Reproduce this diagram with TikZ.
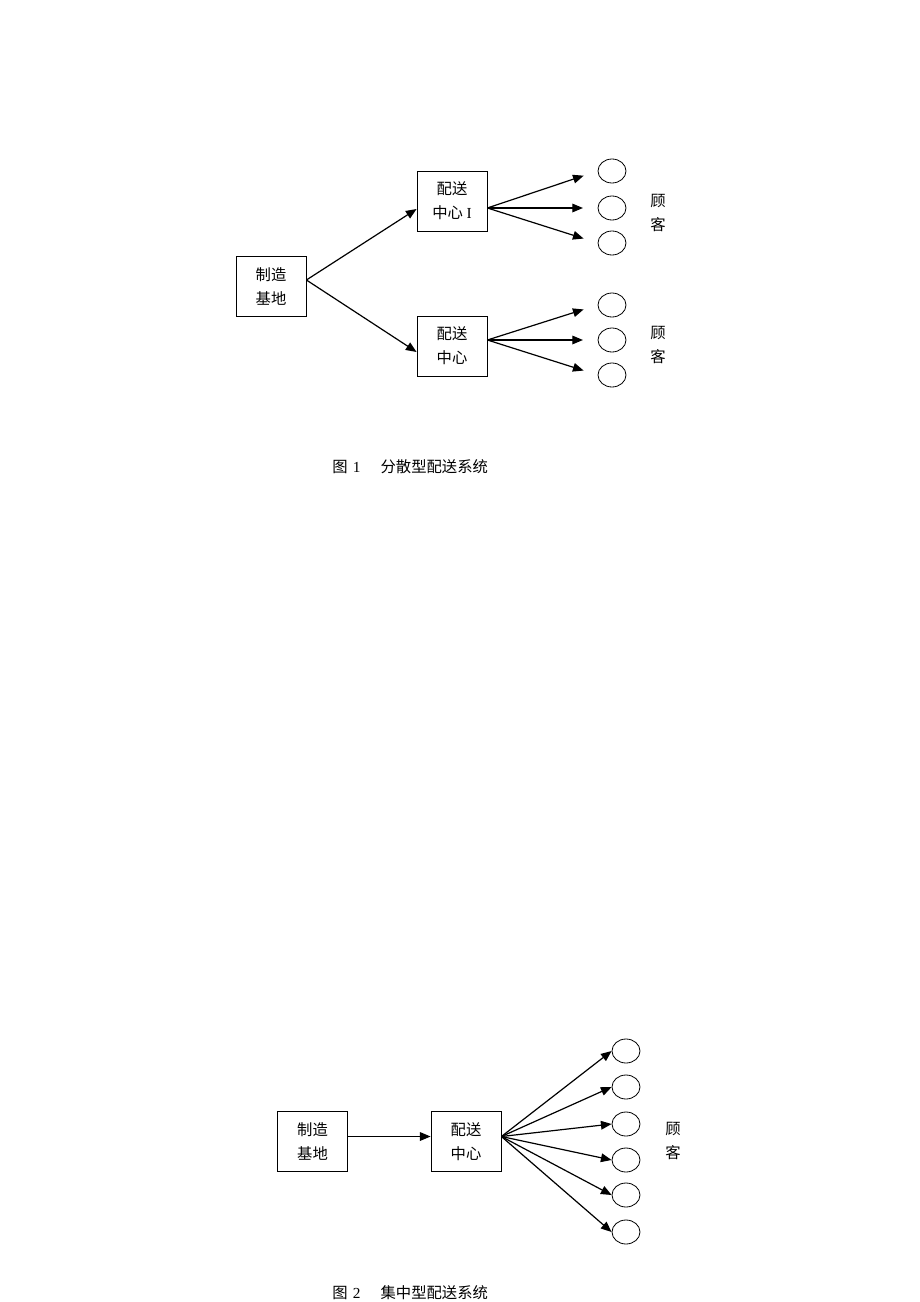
\documentclass[tikz,border=0pt]{standalone}
\usepackage{fontspec}
\setmainfont{Liberation Serif}
\newfontfamily\cjk{Noto Sans CJK SC}
\usetikzlibrary{
    arrows.meta,
    shapes.geometric
}
\tikzset{
    box/.style={draw, line width=0.6pt, minimum width=52.5pt, minimum height=45pt,
        inner sep=0pt, align=center, font=\cjk\fontsize{11.5}{18}\selectfont},
    cust/.style={draw, ellipse, line width=0.6pt, minimum width=21pt, minimum height=18pt, inner sep=0pt},
    arr/.style={-{Triangle[length=8pt, width=6.5pt]}, line width=0.9pt},
    lbl/.style={align=center, font=\cjk\fontsize{11.5}{18}\selectfont},
    figcap/.style={anchor=west, inner sep=0pt, font=\fontsize{11.5}{14}\selectfont}
}

\begin{document}
\begin{tikzpicture}[x=0.75pt, y=-0.75pt]
    \useasboundingbox (0, 0) rectangle (920, 1302);
    % figure 1
    \node[box] (m1) at (271, 286) {制造\\基地};
    \node[box] (d1) at (452, 201) {配送\\中心 {\rmfamily I}};
    \node[box] (d2) at (452, 346) {配送\\中心};
    \foreach \i/\y in {1/171, 2/208, 3/243} {
        \node[cust] (a\i) at (612, \y) {};
    }
    \foreach \i/\y in {1/305, 2/340, 3/375} {
        \node[cust] (b\i) at (612, \y) {};
    }
    \node[lbl] (ka) at (658, 213) {顾\\客};
    \node[lbl] (kb) at (658, 345) {顾\\客};
    \draw[arr] ([yshift=4.5pt]m1.east) -- ([yshift=-6pt]d1.west);
    \draw[arr] ([yshift=4.5pt]m1.east) -- ([yshift=-4.5pt]d2.west);
    \foreach \i in {1, 2, 3} {
        \draw[arr, shorten >=11pt] (d1.east |- a2) -- (a\i.west);
        \draw[arr, shorten >=11pt] (d2.east |- b2) -- (b\i.west);
    }
    \node[figcap] (cap1) at (332, 467) {{\cjk 图}\hspace{4pt}1\hspace{15pt}{\cjk 分散型配送系统}};
    % figure 2
    \node[box] (m2) at (312.5, 1141.5) {制造\\基地};
    \node[box] (d3) at (466, 1141.5) {配送\\中心};
    \foreach \i/\y in {1/1051, 2/1087, 3/1124, 4/1160, 5/1195, 6/1232} {
        \node[cust] (c\i) at (626, \y) {};
        \draw[arr] ([yshift=3.75pt]d3.east) -- (c\i.west);
    }
    \node[lbl] (kc) at (673, 1141) {顾\\客};
    \draw[arr] ([yshift=3.75pt]m2.east) -- ([yshift=3.75pt]d3.west);
    \node[figcap] (cap2) at (332, 1293) {{\cjk 图}\hspace{4pt}2\hspace{15pt}{\cjk 集中型配送系统}};
\end{tikzpicture}
\end{document}
